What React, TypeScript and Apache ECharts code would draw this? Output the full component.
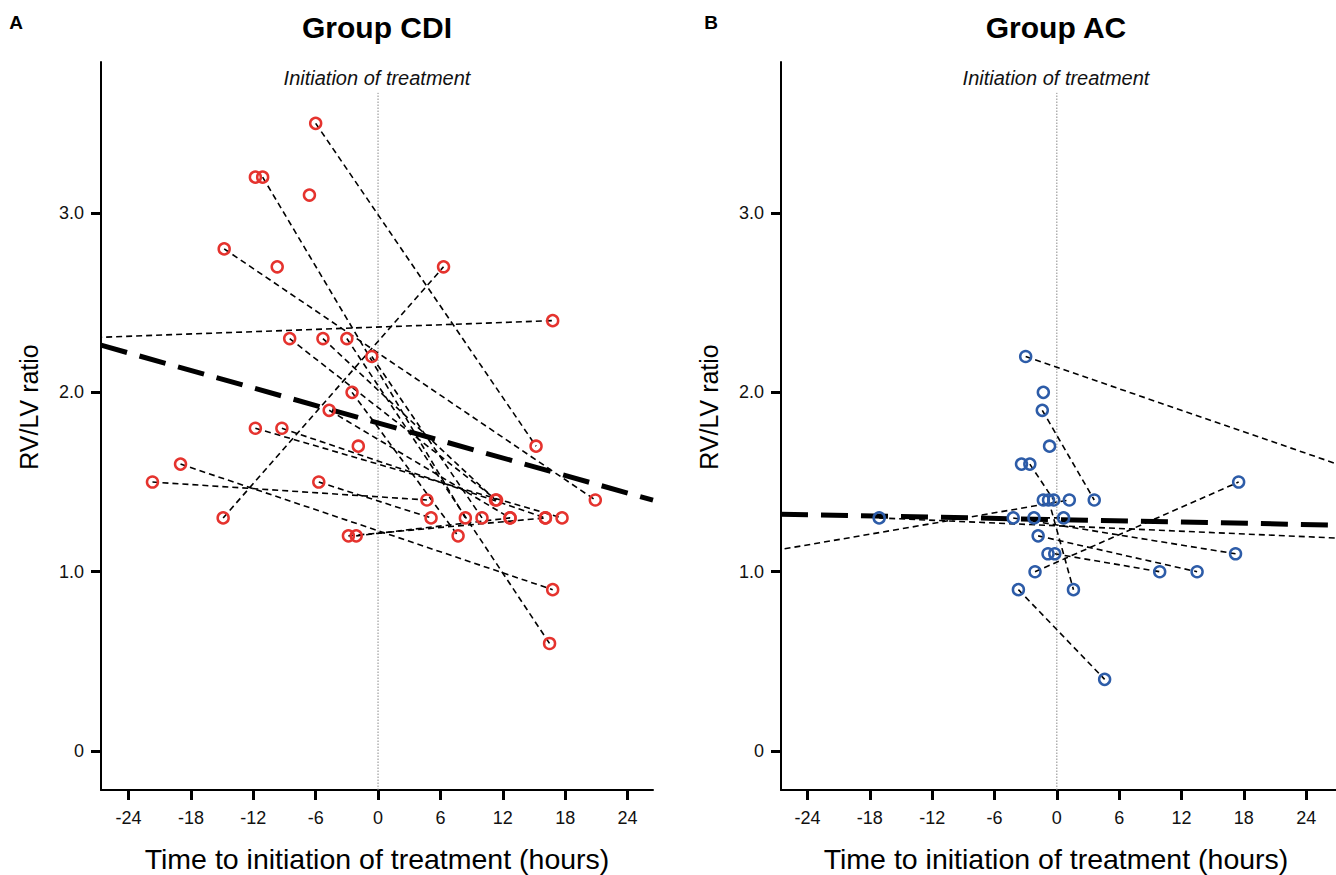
import React, { useEffect, useRef } from "react";
import * as echarts from "echarts";

// ---------- data ----------
const xTicks = [-24, -18, -12, -6, 0, 6, 12, 18, 24];
const yTicks = [0, 1, 2, 3];

// axis extents (hours / ratio)
const leftXRange = [-26.65, 26.45];
const rightXRange = [-26.55, 26.87];
const yRange = [-0.217, 3.842];
const treatmentLineTop = 3.67;

// Group CDI: first measurement -> second measurement (null = single measurement)
const cdiPreX = [-6.0, -11.1, -14.8, -30, -14.9, -8.5, -5.3, -3.0, -0.6, -2.5, -4.7, -11.8, -9.25, -19.0, -21.7, -5.7, -2.85, -2.1, -11.8, -6.6, -9.7, -1.9];
const cdiPreY = [3.5, 3.2, 2.8, 2.3, 1.3, 2.3, 2.3, 2.3, 2.2, 2.0, 1.9, 1.8, 1.8, 1.6, 1.5, 1.5, 1.2, 1.2, 3.2, 3.1, 2.7, 1.7];
const cdiPostX = [15.2, 8.4, 20.9, 16.8, 6.3, 11.4, 11.3, 16.5, 10.0, 7.7, 12.7, 17.7, 16.1, 16.8, 4.7, 5.1, 16.1, 12.7, null, null, null, null];
const cdiPostY = [1.7, 1.3, 1.4, 2.4, 2.7, 1.4, 1.4, 0.6, 1.3, 1.2, 1.3, 1.3, 1.3, 0.9, 1.4, 1.3, 1.3, 1.3, null, null, null, null];
const cdiTrendX = [-26.65, 26.45];
const cdiTrendY = [2.263, 1.399];

// Group AC
const acPreX = [-3.0, -30, -17.1, -2.1, -1.4, -2.6, -4.2, -1.8, -0.2, -3.7, -0.8, -2.2, -1.3, -0.7, -3.4, -1.3, -0.85];
const acPreY = [2.2, 1.09, 1.3, 1.0, 1.9, 1.6, 1.3, 1.2, 1.1, 0.9, 1.4, 1.3, 2.0, 1.7, 1.6, 1.4, 1.1];
const acPostX = [30, 1.2, 30, 17.5, 3.6, -0.3, 17.2, 13.5, 9.9, 4.6, 1.6, 0.65, null, null, null, null, null];
const acPostY = [1.54, 1.4, 1.18, 1.5, 1.4, 1.4, 1.1, 1.0, 1.0, 0.4, 0.9, 1.3, null, null, null, null, null];
const acTrendX = [-26.55, 26.87];
const acTrendY = [1.321, 1.26];

const FONT = "'Liberation Sans', Arimo, Arial, Helvetica, sans-serif";

function panelSeries(
  idx: number,
  preX: number[], preY: number[],
  postX: (number | null)[], postY: (number | null)[],
  trendX: number[], trendY: number[],
  color: string
) {
  const s: any[] = [];
  s.push({
    type: "line",
    xAxisIndex: idx,
    yAxisIndex: idx,
    data: [[0, yRange[0]], [0, treatmentLineTop]],
    symbol: "none",
    silent: true,
    lineStyle: { color: "#8a8a8a", width: 1, type: [1.5, 1.5] },
    z: 1,
  });
  preX.forEach((x, i) => {
    if (postX[i] === null) return;
    s.push({
      type: "line",
      xAxisIndex: idx,
      yAxisIndex: idx,
      data: [[x, preY[i]], [postX[i], postY[i]]],
      symbol: "none",
      silent: true,
      clip: true,
      lineStyle: { color: "#000", width: 1.6, type: [6, 4] },
      z: 2,
    });
  });
  s.push({
    type: "line",
    xAxisIndex: idx,
    yAxisIndex: idx,
    data: trendX.map((x, i) => [x, trendY[i]]),
    symbol: "none",
    silent: true,
    clip: true,
    lineStyle: { color: "#000", width: 5, type: [27, 13] },
    z: 3,
  });
  const pts: number[][] = [];
  preX.forEach((x, i) => {
    pts.push([x, preY[i]]);
    if (postX[i] !== null) pts.push([postX[i] as number, postY[i] as number]);
  });
  s.push({
    type: "scatter",
    xAxisIndex: idx,
    yAxisIndex: idx,
    data: pts,
    symbol: "circle",
    symbolSize: 11,
    clip: true,
    silent: true,
    itemStyle: { color: "rgba(255,255,255,0)", borderColor: color, borderWidth: 2.5, opacity: 1 },
    z: 4,
  });
  return s;
}

const labelStyle = { color: "#111", fontSize: 18, fontFamily: FONT };

function xAxis(idx: number, range: number[]) {
  return {
    type: "value",
    gridIndex: idx,
    min: range[0],
    max: range[1],
    axisLine: { show: true, onZero: false, lineStyle: { color: "#000", width: 2 } },
    axisTick: { show: true, customValues: xTicks, length: 10, lineStyle: { color: "#000", width: 3 } },
    axisLabel: { customValues: xTicks, margin: 19, ...labelStyle },
    splitLine: { show: false },
  };
}

function yAxis(idx: number) {
  return {
    type: "value",
    gridIndex: idx,
    min: yRange[0],
    max: yRange[1],
    axisLine: { show: true, onZero: false, lineStyle: { color: "#000", width: 2 } },
    axisTick: { show: true, customValues: yTicks, length: 10, lineStyle: { color: "#000", width: 3 } },
    axisLabel: {
      customValues: yTicks,
      margin: 17,
      ...labelStyle,
      formatter: (v: number) => (v === 0 ? "0" : v.toFixed(1)),
    },
    splitLine: { show: false },
  };
}

function texts(cx: number, axisX: number, letterX: number, letter: string, title: string) {
  return [
    { type: "text", x: letterX, y: 22, style: { text: letter, font: `bold 19px ${FONT}`, fill: "#000", align: "center", verticalAlign: "middle" } },
    { type: "text", x: cx, y: 27, style: { text: title, font: `bold 30px ${FONT}`, fill: "#000", align: "center", verticalAlign: "middle" } },
    { type: "text", x: cx, y: 78, style: { text: "Initiation of treatment", font: `italic 20px ${FONT}`, fill: "#111", align: "center", verticalAlign: "middle" } },
    { type: "text", x: cx, y: 859, style: { text: "Time to initiation of treatment (hours)", font: `28.5px ${FONT}`, fill: "#000", align: "center", verticalAlign: "middle" } },
    { type: "text", x: axisX - 72, y: 407, rotation: Math.PI / 2, style: { text: "RV/LV ratio", font: `25px ${FONT}`, fill: "#000", align: "center", verticalAlign: "middle" } },
  ];
}

export default function App() {
  const ref = useRef<HTMLDivElement>(null);
  useEffect(() => {
    if (!ref.current) return;
    const chart = echarts.init(ref.current, undefined, { renderer: "svg" });
    chart.setOption({
      animation: false,
      backgroundColor: "#fff",
      textStyle: { fontFamily: FONT, fontSize: 18 },
      grid: [
        { left: 101, top: 62, width: 552, height: 728 },
        { left: 781, top: 62, width: 555, height: 728 },
      ],
      xAxis: [xAxis(0, leftXRange), xAxis(1, rightXRange)],
      yAxis: [yAxis(0), yAxis(1)],
      series: [
        ...panelSeries(0, cdiPreX, cdiPreY, cdiPostX, cdiPostY, cdiTrendX, cdiTrendY, "#e5332e"),
        ...panelSeries(1, acPreX, acPreY, acPostX, acPostY, acTrendX, acTrendY, "#2d5ca8"),
      ],
      graphic: [
        ...texts(377, 101, 16, "A", "Group CDI"),
        ...texts(1056, 781, 711, "B", "Group AC"),
      ],
    });
    return () => chart.dispose();
  }, []);
  return (
    <div
      ref={ref}
      style={{ position: "absolute", left: 0, top: 0, width: 1336, height: 875, background: "#fff" }}
    />
  );
}
